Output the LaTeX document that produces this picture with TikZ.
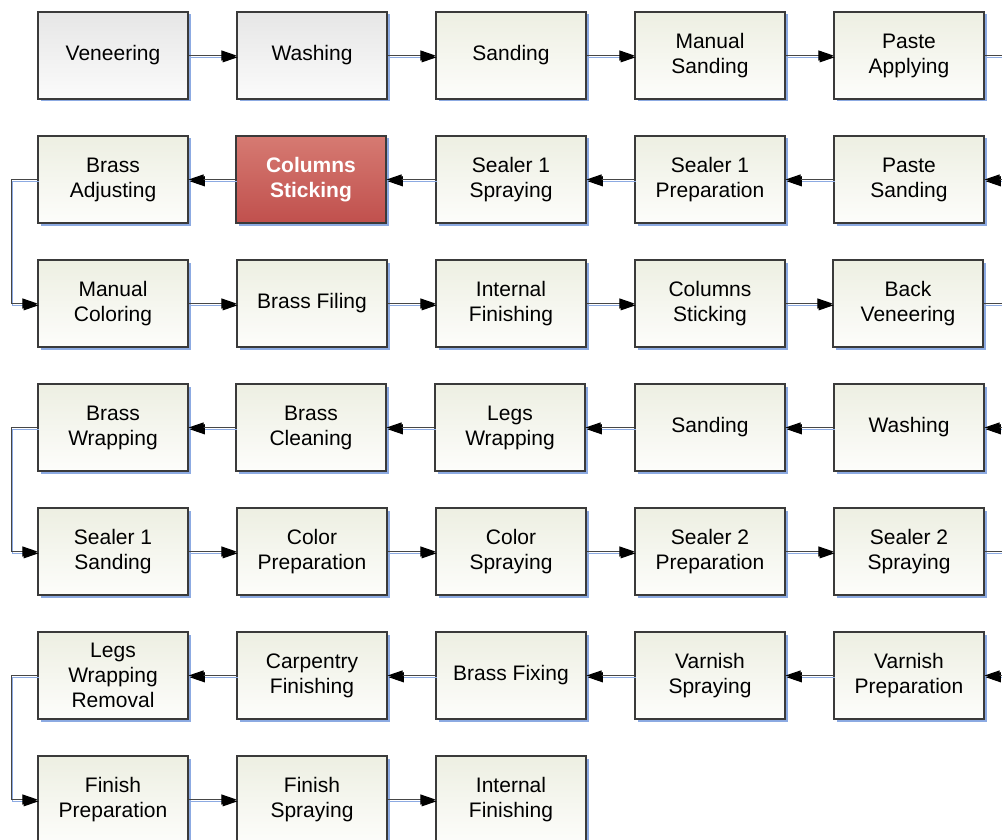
\documentclass[tikz,border=0pt]{standalone}
\usepackage{fontspec}
\setmainfont{Liberation Sans}
\usetikzlibrary{arrows.meta,shadows}

\definecolor{edgegray}{RGB}{58,58,58}
\definecolor{linegray}{RGB}{70,70,70}
\definecolor{shadowblue}{RGB}{140,170,226}
\definecolor{greentop}{RGB}{237,239,226}
\definecolor{greenbot}{RGB}{253,253,251}
\definecolor{graytop}{RGB}{230,230,230}
\definecolor{graybot}{RGB}{251,251,251}
\definecolor{redtop}{RGB}{214,122,114}
\definecolor{redbot}{RGB}{192,80,77}

\tikzset{
  proc/.style={draw=edgegray, line width=1.2pt, minimum width=150pt,
    minimum height=87pt, inner sep=0pt, align=center,
    font=\fontsize{21}{25}\selectfont,
    top color=greentop, bottom color=greenbot,
    drop shadow={shadow xshift=2.5pt, shadow yshift=-2.5pt,
      fill=shadowblue, opacity=1}},
  procgray/.style={proc, top color=graytop, bottom color=graybot},
  procred/.style={proc, top color=redtop, bottom color=redbot,
    text=white, font=\fontsize{21}{25}\selectfont\bfseries},
  link/.style={draw=linegray, line width=1.1pt,
    preaction={draw=shadowblue, line width=1.1pt,
      transform canvas={shift={(1.2pt,-1.8pt)}}}},
  flow/.style={link, -{Triangle[length=15pt,width=10pt,fill=black,color=black]}}
}

\begin{document}
\begin{tikzpicture}[x=1pt, y=-1pt]
\useasboundingbox (0,0) rectangle (1002,840);
\clip (0,0) rectangle (1002,840);
\fill[white] (0,0) rectangle (1002,840);

% row 1
\node[procgray] (r1a) at (113,55.5) {Veneering};
\node[procgray] (r1b) at (312,55.5) {Washing};
\node[proc] (r1c) at (511,55.5) {Sanding};
\node[proc] (r1d) at (710,55.5) {Manual\\Sanding};
\node[proc] (r1e) at (909,55.5) {Paste\\Applying};
% row 2
\node[proc] (r2a) at (113,179.5) {Brass\\Adjusting};
\node[procred] (r2b) at (311,179.5) {Columns\\Sticking};
\node[proc] (r2c) at (511,179.5) {Sealer 1\\Spraying};
\node[proc] (r2d) at (710,179.5) {Sealer 1\\Preparation};
\node[proc] (r2e) at (909,179.5) {Paste\\Sanding};
% row 3
\node[proc] (r3a) at (113,303.5) {Manual\\Coloring};
\node[proc] (r3b) at (312,303.5) {Brass Filing};
\node[proc] (r3c) at (511,303.5) {Internal\\Finishing};
\node[proc] (r3d) at (710,303.5) {Columns\\Sticking};
\node[proc] (r3e) at (908,303.5) {Back\\Veneering};
% row 4
\node[proc] (r4a) at (113,427.5) {Brass\\Wrapping};
\node[proc] (r4b) at (311,427.5) {Brass\\Cleaning};
\node[proc] (r4c) at (510,427.5) {Legs\\Wrapping};
\node[proc] (r4d) at (710,427.5) {Sanding};
\node[proc] (r4e) at (909,427.5) {Washing};
% row 5
\node[proc] (r5a) at (113,551.5) {Sealer 1\\Sanding};
\node[proc] (r5b) at (312,551.5) {Color\\Preparation};
\node[proc] (r5c) at (511,551.5) {Color\\Spraying};
\node[proc] (r5d) at (710,551.5) {Sealer 2\\Preparation};
\node[proc] (r5e) at (909,551.5) {Sealer 2\\Spraying};
% row 6
\node[proc] (r6a) at (113,675.5) {Legs\\Wrapping\\Removal};
\node[proc] (r6b) at (312,675.5) {Carpentry\\Finishing};
\node[proc] (r6c) at (511,675.5) {Brass Fixing};
\node[proc] (r6d) at (710,675.5) {Varnish\\Spraying};
\node[proc] (r6e) at (909,675.5) {Varnish\\Preparation};
% row 7
\node[proc] (r7a) at (113,799.5) {Finish\\Preparation};
\node[proc] (r7b) at (312,799.5) {Finish\\Spraying};
\node[proc] (r7c) at (511,799.5) {Internal\\Finishing};

% loose ends at the right border
\coordinate (e1) at (1012,55.5);
\coordinate (e2) at (1012,179.5);
\coordinate (e3) at (1012,303.5);
\coordinate (e4) at (1012,427.5);
\coordinate (e5) at (1012,551.5);
\coordinate (e6) at (1012,675.5);

% row 1 flows right
\draw[flow] (r1a) -- (r1b);
\draw[flow] (r1b) -- (r1c);
\draw[flow] (r1c) -- (r1d);
\draw[flow] (r1d) -- (r1e);
\draw[link] (r1e) -- (e1);
% row 2 flows left
\draw[flow] (e2) -- (r2e);
\draw[flow] (r2e) -- (r2d);
\draw[flow] (r2d) -- (r2c);
\draw[flow] (r2c) -- (r2b);
\draw[flow] (r2b) -- (r2a);
\draw[flow] (r2a.west) -- ++(-26,0) |- (r3a.west);
% row 3 flows right
\draw[flow] (r3a) -- (r3b);
\draw[flow] (r3b) -- (r3c);
\draw[flow] (r3c) -- (r3d);
\draw[flow] (r3d) -- (r3e);
\draw[link] (r3e) -- (e3);
% row 4 flows left
\draw[flow] (e4) -- (r4e);
\draw[flow] (r4e) -- (r4d);
\draw[flow] (r4d) -- (r4c);
\draw[flow] (r4c) -- (r4b);
\draw[flow] (r4b) -- (r4a);
\draw[flow] (r4a.west) -- ++(-26,0) |- (r5a.west);
% row 5 flows right
\draw[flow] (r5a) -- (r5b);
\draw[flow] (r5b) -- (r5c);
\draw[flow] (r5c) -- (r5d);
\draw[flow] (r5d) -- (r5e);
\draw[link] (r5e) -- (e5);
% row 6 flows left
\draw[flow] (e6) -- (r6e);
\draw[flow] (r6e) -- (r6d);
\draw[flow] (r6d) -- (r6c);
\draw[flow] (r6c) -- (r6b);
\draw[flow] (r6b) -- (r6a);
\draw[flow] (r6a.west) -- ++(-26,0) |- (r7a.west);
% row 7 flows right
\draw[flow] (r7a) -- (r7b);
\draw[flow] (r7b) -- (r7c);
\end{tikzpicture}
\end{document}
